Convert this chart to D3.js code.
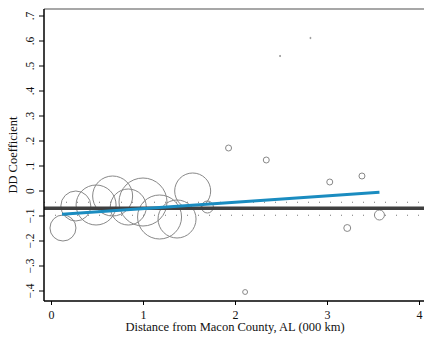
<!DOCTYPE html>
<html>
<head>
<meta charset="utf-8">
<script src="https://cdn.jsdelivr.net/npm/d3@7"></script>
<style>
  body { margin: 0; background: #fff; }
  svg text { font-family: "Liberation Serif", "DejaVu Serif", serif; fill: #111; }
</style>
</head>
<body>
<svg width="424" height="337"></svg>
<script>
// Binned estimates: distance (000 km), DD coefficient, weight
const distance = [0.13, 0.27, 0.49, 0.67, 0.84, 1.00, 1.18, 1.37, 1.54, 1.70,
                  1.93, 2.34, 3.03, 3.38, 3.22, 3.57, 2.11, 2.49, 2.82];
const coef =     [-0.150, -0.062, -0.058, -0.022, -0.066, -0.046, -0.106, -0.114, -0.002, -0.066,
                  0.170, 0.122, 0.034, 0.058, -0.150, -0.098, -0.406, 0.538, 0.610];
const weight =   [169, 225, 400, 400, 324, 576, 484, 361, 324, 36,
                  9, 9, 9, 9, 12, 25, 6, 0.3, 0.3];

// Pooled estimate and its confidence band
const pooled = -0.071;
const band = [-0.047, -0.099];

// Linear fit over distance
const fitX = [0.12, 3.57];
const fitY = [-0.095, -0.007];

const xTicks = [0, 1, 2, 3, 4];
const yTicks = [-0.4, -0.3, -0.2, -0.1, 0, 0.1, 0.2, 0.3, 0.4, 0.5, 0.6, 0.7];

const svg = d3.select("svg");
const mLeft = 44, mRight = 424, mTop = 9, mBottom = 301;

const x = d3.scaleLinear().domain([0, 4]).range([51, 419]);
const y = d3.scaleLinear().domain([0, 0.7]).range([190.5, 15.5]);
const r = d3.scaleSqrt().domain([0, 576]).range([0, 24]);

// frame
svg.append("line")
    .attr("x1", mLeft).attr("x2", mRight).attr("y1", mTop).attr("y2", mTop)
    .attr("stroke", "#8a8a8a").attr("stroke-width", 1.5);

// dotted band lines
band.forEach(v => {
    svg.append("line")
        .attr("x1", mLeft).attr("x2", mRight)
        .attr("y1", y(v)).attr("y2", y(v))
        .attr("stroke", "#777").attr("stroke-width", 1)
        .attr("stroke-dasharray", "1,10");
});

// circles
svg.append("g").selectAll("circle")
    .data(distance.map((d, i) => ({x: d, y: coef[i], w: weight[i]})))
    .join("circle")
    .attr("cx", d => x(d.x))
    .attr("cy", d => y(d.y))
    .attr("r", d => Math.max(r(d.w), 0.6))
    .attr("fill", "none")
    .attr("stroke", "#888")
    .attr("stroke-width", 1);

// pooled line
svg.append("line")
    .attr("x1", mLeft).attr("x2", mRight)
    .attr("y1", y(pooled)).attr("y2", y(pooled))
    .attr("stroke", "#3f3f3f").attr("stroke-width", 3.5);

// fit line
svg.append("line")
    .attr("x1", x(fitX[0])).attr("x2", x(fitX[1]))
    .attr("y1", y(fitY[0])).attr("y2", y(fitY[1]))
    .attr("stroke", "#1a8cc0").attr("stroke-width", 3);

// y axis
const yAxis = svg.append("g")
    .attr("transform", `translate(${mLeft},0)`)
    .call(d3.axisLeft(y).tickValues(yTicks).tickSize(5)
        .tickFormat(d => d === 0 ? "0" : d3.format(".1f")(d).replace("0.", ".")));
yAxis.select(".domain").attr("d", `M0,${mTop}V${mBottom}`).attr("stroke", "#000").attr("stroke-width", 1.5);
yAxis.selectAll(".tick line").attr("stroke", "#000");
yAxis.selectAll(".tick text")
    .attr("x", null)
    .attr("text-anchor", "middle")
    .attr("transform", "translate(-14,0) rotate(-90)")
    .attr("dy", "0.35em")
    .style("font-size", "11.5px");

// x axis
const xAxis = svg.append("g")
    .attr("transform", `translate(0,${mBottom})`)
    .call(d3.axisBottom(x).tickValues(xTicks).tickSize(4).tickFormat(d3.format("d")));
xAxis.select(".domain").attr("d", `M${mLeft},0H${mRight}`).attr("stroke", "#000").attr("stroke-width", 1.5);
xAxis.selectAll(".tick line").attr("stroke", "#000");
xAxis.selectAll(".tick text").attr("y", 9).style("font-size", "12px");

// titles
svg.append("text")
    .attr("x", 235).attr("y", 331)
    .attr("text-anchor", "middle")
    .style("font-size", "12.5px")
    .text("Distance from Macon County, AL (000 km)");

svg.append("text")
    .attr("transform", "translate(17,155) rotate(-90)")
    .attr("text-anchor", "middle")
    .style("font-size", "12.5px")
    .text("DD Coefficient");
</script>
</body>
</html>
